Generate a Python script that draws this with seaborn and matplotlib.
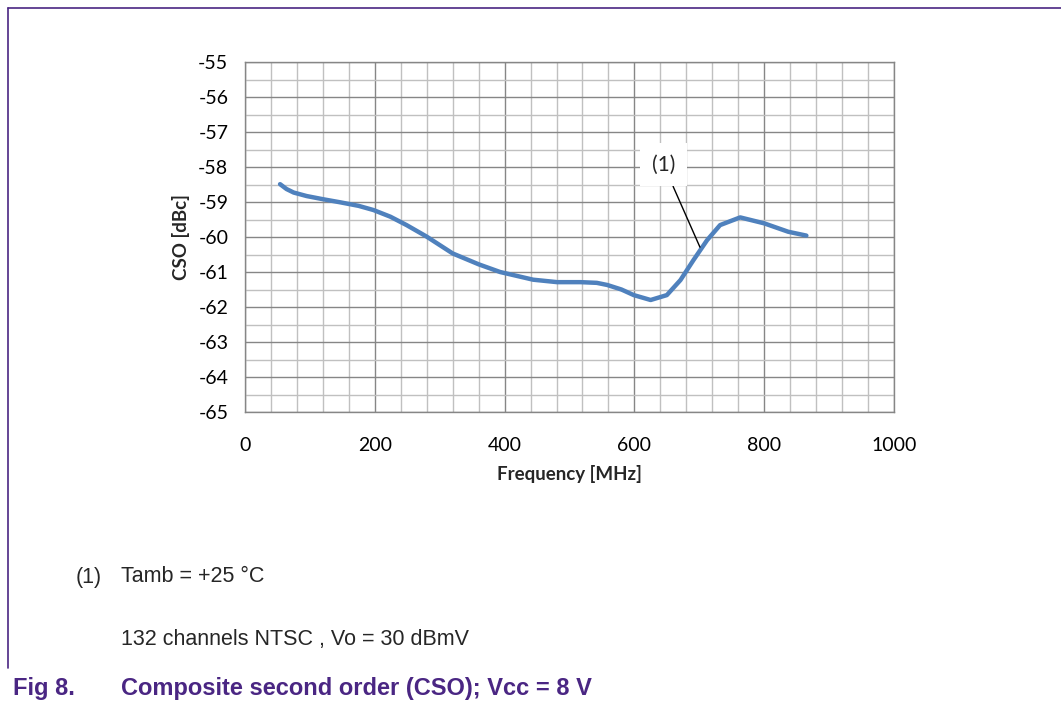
import numpy as np
import pandas as pd
import matplotlib
matplotlib.use("Agg")
import matplotlib.pyplot as plt
from matplotlib.ticker import MultipleLocator
import seaborn as sns

# ── data ────────────────────────────────────────────────────────────────
freq_mhz = [54, 64, 75, 95, 120, 147, 175, 198, 224, 249, 280, 320, 360,
            393, 444, 481, 517, 542, 558, 580, 599, 625, 650, 671, 691,
            712, 732, 763, 800, 837, 865]
cso_dbc = [-58.49, -58.63, -58.73, -58.83, -58.92, -59.01, -59.11, -59.23,
           -59.42, -59.66, -59.99, -60.47, -60.78, -61.0, -61.22, -61.29,
           -61.29, -61.31, -61.37, -61.5, -61.66, -61.8, -61.66, -61.23,
           -60.66, -60.09, -59.66, -59.44, -59.61, -59.85, -59.96]

x_ticks = [0, 200, 400, 600, 800, 1000]
y_ticks = [-55, -56, -57, -58, -59, -60, -61, -62, -63, -64, -65]

note_1 = "Tamb = +25 °C"
note_2 = "132 channels NTSC , Vo = 30 dBmV"
fig_num = "Fig 8."
fig_title = "Composite second order (CSO); Vcc = 8 V"

df = pd.DataFrame({"freq": freq_mhz, "cso": cso_dbc})

sns.set_style("white")
plt.rcParams["font.family"] = ["Lato", "DejaVu Sans"]
plt.rcParams["axes.unicode_minus"] = False

purple = "#4a2683"
major_c = "#868686"
minor_c = "#c0c0c0"

fig = plt.figure(figsize=(10.61, 7.05), dpi=100)
ax = fig.add_axes([245 / 1061, 293 / 705, 649 / 1061, 350 / 705])

sns.lineplot(data=df, x="freq", y="cso", ax=ax, color="#4f81bd",
             linewidth=3.2, solid_capstyle="round", solid_joinstyle="round",
             zorder=5)

ax.set_xlim(0, 1000)
ax.set_ylim(-65, -55)
ax.set_xticks(x_ticks)
ax.set_yticks(y_ticks)
ax.xaxis.set_minor_locator(MultipleLocator(40))
ax.yaxis.set_minor_locator(MultipleLocator(0.5))
ax.grid(which="major", color=major_c, linewidth=1.0)
ax.grid(which="minor", color=minor_c, linewidth=1.0)
ax.tick_params(which="major", axis="both", direction="out", length=6,
               width=1, color=major_c, labelsize=14, labelcolor="black")
ax.tick_params(which="minor", length=0)
ax.tick_params(axis="x", pad=12)
ax.tick_params(axis="y", pad=6)
for s in ax.spines.values():
    s.set_color(major_c)
    s.set_linewidth(1.0)

ax.set_xlabel("Frequency [MHz]", fontsize=13.5, fontweight="bold", labelpad=8)
ax.set_ylabel("CSO [dBc]", fontsize=13.5, fontweight="bold", labelpad=6)

# callout label (1)
ax.annotate("(1)", xy=(701, -60.29), xytext=(645, -57.94),
            fontsize=15, ha="center", va="center", zorder=6,
            bbox=dict(boxstyle="square,pad=0.55", fc="white", ec="none"),
            arrowprops=dict(arrowstyle="-", color="black", lw=1.0,
                            shrinkA=0, shrinkB=0))

# page frame lines
fig.add_artist(plt.Line2D([8 / 1061, 1], [1 - 8 / 705, 1 - 8 / 705],
                          color=purple, lw=1.2, transform=fig.transFigure))
fig.add_artist(plt.Line2D([8 / 1061, 8 / 1061], [1 - 8 / 705, 1 - 668 / 705],
                          color=purple, lw=1.2, transform=fig.transFigure))

# notes below chart
note_font = ["Liberation Sans"]
fig.text(76 / 1061, 1 - 577 / 705, "(1)", fontsize=15.5, va="center",
         family=note_font)
fig.text(121 / 1061, 1 - 577 / 705, note_1, fontsize=15.5, va="center",
         family=note_font)
fig.text(121 / 1061, 1 - 640 / 705, note_2, fontsize=15.5, va="center",
         family=note_font)
fig.text(13 / 1061, 1 - 688 / 705, fig_num, fontsize=17, va="center",
         fontweight="bold", color=purple, family=note_font)
fig.text(121 / 1061, 1 - 688 / 705, fig_title, fontsize=17, va="center",
         fontweight="bold", color=purple, family=note_font)

plt.savefig("out.png", dpi=100)
